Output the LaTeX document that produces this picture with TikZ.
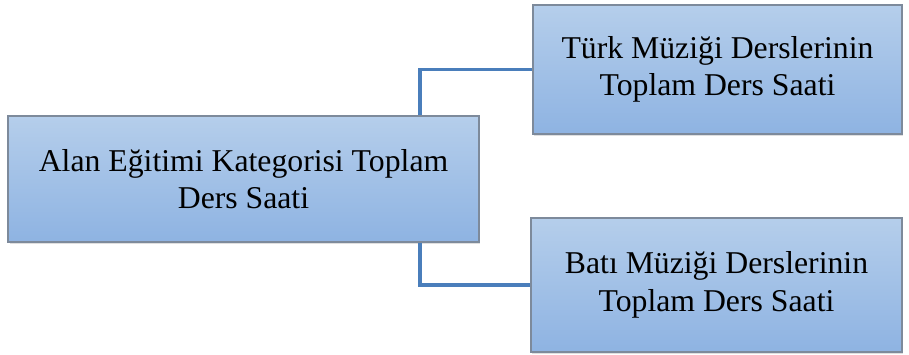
\documentclass[tikz,border=0pt]{standalone}
\usepackage{fontspec}
\setmainfont{Liberation Serif}
\usetikzlibrary{shadows}
\definecolor{boxtop}{HTML}{B5CEEB}
\definecolor{boxbot}{HTML}{8EB3E2}
\definecolor{boxline}{HTML}{7D8A9B}
\definecolor{linkblue}{HTML}{4A7EBB}
\tikzset{
  katbox/.style={draw=boxline, line width=1.5pt, top color=boxtop, bottom color=boxbot,
    align=center, font=\fontsize{23.8}{28}\selectfont, inner sep=0pt,
    drop shadow={shadow xshift=1pt, shadow yshift=-1.5pt, opacity=0.25}},
  link/.style={draw=linkblue, line width=2.3pt}
}
\begin{document}
\begin{tikzpicture}[x=0.75pt, y=-0.75pt]
\useasboundingbox (0,0) rectangle (909,354);
\node (alan) [katbox, minimum width=353pt, minimum height=94.5pt] at (243.5,179)
  {Alan Eğitimi Kategorisi Toplam\\Ders Saati};
\node (turk) [katbox, right of=alan, node distance=355.5pt, yshift=82pt,
  minimum width=276.75pt, minimum height=96.75pt] {Türk Müziği Derslerinin\\Toplam Ders Saati};
\node (bati) [katbox, right of=alan, node distance=354.75pt, yshift=-79.5pt,
  minimum width=278.25pt, minimum height=100.5pt] {Batı Müziği Derslerinin\\Toplam Ders Saati};
\coordinate (kol) at (420,0);
\draw[link] (alan.north -| kol) |- (turk.west);
\draw[link] (alan.south -| kol) |- (bati.west);
\end{tikzpicture}
\end{document}
